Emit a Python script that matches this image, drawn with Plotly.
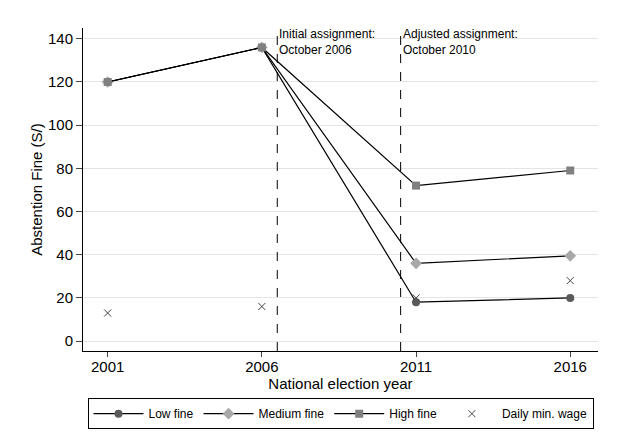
import plotly.graph_objects as go

years = [2001, 2006, 2011, 2016]
low_fine = [120, 136, 18, 20]
medium_fine = [120, 136, 36, 39.5]
high_fine = [120, 136, 72, 79]
min_wage = [13, 16, 20, 28]
policy_years = [2006.5, 2010.5]
policy_labels = ["Initial assignment:<br>October 2006", "Adjusted assignment:<br>October 2010"]
y_ticks = [0, 20, 40, 60, 80, 100, 120, 140]

FONT = "Arial, Liberation Sans, sans-serif"
fig = go.Figure()
fig.add_trace(go.Scatter(x=years, y=low_fine, name="Low fine", mode="lines+markers",
                         line=dict(color="black", width=1.2),
                         marker=dict(symbol="circle", size=8, color="#5a5a5a")))
fig.add_trace(go.Scatter(x=years, y=medium_fine, name="Medium fine", mode="lines+markers",
                         line=dict(color="black", width=1.2),
                         marker=dict(symbol="diamond", size=9, color="#a8a8a8")))
fig.add_trace(go.Scatter(x=years, y=high_fine, name="High fine", mode="lines+markers",
                         line=dict(color="black", width=1.2),
                         marker=dict(symbol="square", size=8, color="#808080")))
fig.add_trace(go.Scatter(x=years, y=min_wage, name="Daily min. wage", mode="markers",
                         marker=dict(symbol="x-thin", size=7, color="#444444",
                                     line=dict(width=1, color="#444444"))))

for xv, lab in zip(policy_years, policy_labels):
    fig.add_vline(x=xv, line=dict(color="black", width=1, dash="dash"))
    fig.add_annotation(x=xv, y=1.0, xref="x", yref="paper", text=lab, showarrow=False,
                       xanchor="left", yanchor="top", align="left", xshift=0, yshift=3,
                       font=dict(size=12, color="black", family=FONT))

fig.update_layout(
    width=623, height=434,
    paper_bgcolor="white", plot_bgcolor="white",
    margin=dict(l=75, r=33, t=20, b=91, autoexpand=False),
    font=dict(family=FONT, size=15, color="black"),
    xaxis=dict(range=[2000.2, 2016.9], tickvals=years, ticks="outside", ticklen=5,
               showline=True, linecolor="black", linewidth=1, showgrid=False, zeroline=False,
               automargin=False, ticklabelstandoff=-3,
               title=dict(text="National election year", font=dict(size=15), standoff=0),
               tickfont=dict(size=15)),
    yaxis=dict(range=[-4.6, 145], tickvals=y_ticks, ticks="outside", ticklen=6,
               showline=True, linecolor="black", linewidth=1, showgrid=True,
               gridcolor="#e4e4e4", gridwidth=1, zeroline=False, automargin=False,
               title=dict(text="Abstention Fine (S/)", font=dict(size=15), standoff=1),
               tickfont=dict(size=15)),
    legend=dict(orientation="h", x=0.5, xanchor="center", y=-0.146, yanchor="top",
                bordercolor="black", borderwidth=1, font=dict(size=12),
                itemwidth=50, tracegroupgap=0),
    showlegend=True,
)

fig.write_html("out.html")
